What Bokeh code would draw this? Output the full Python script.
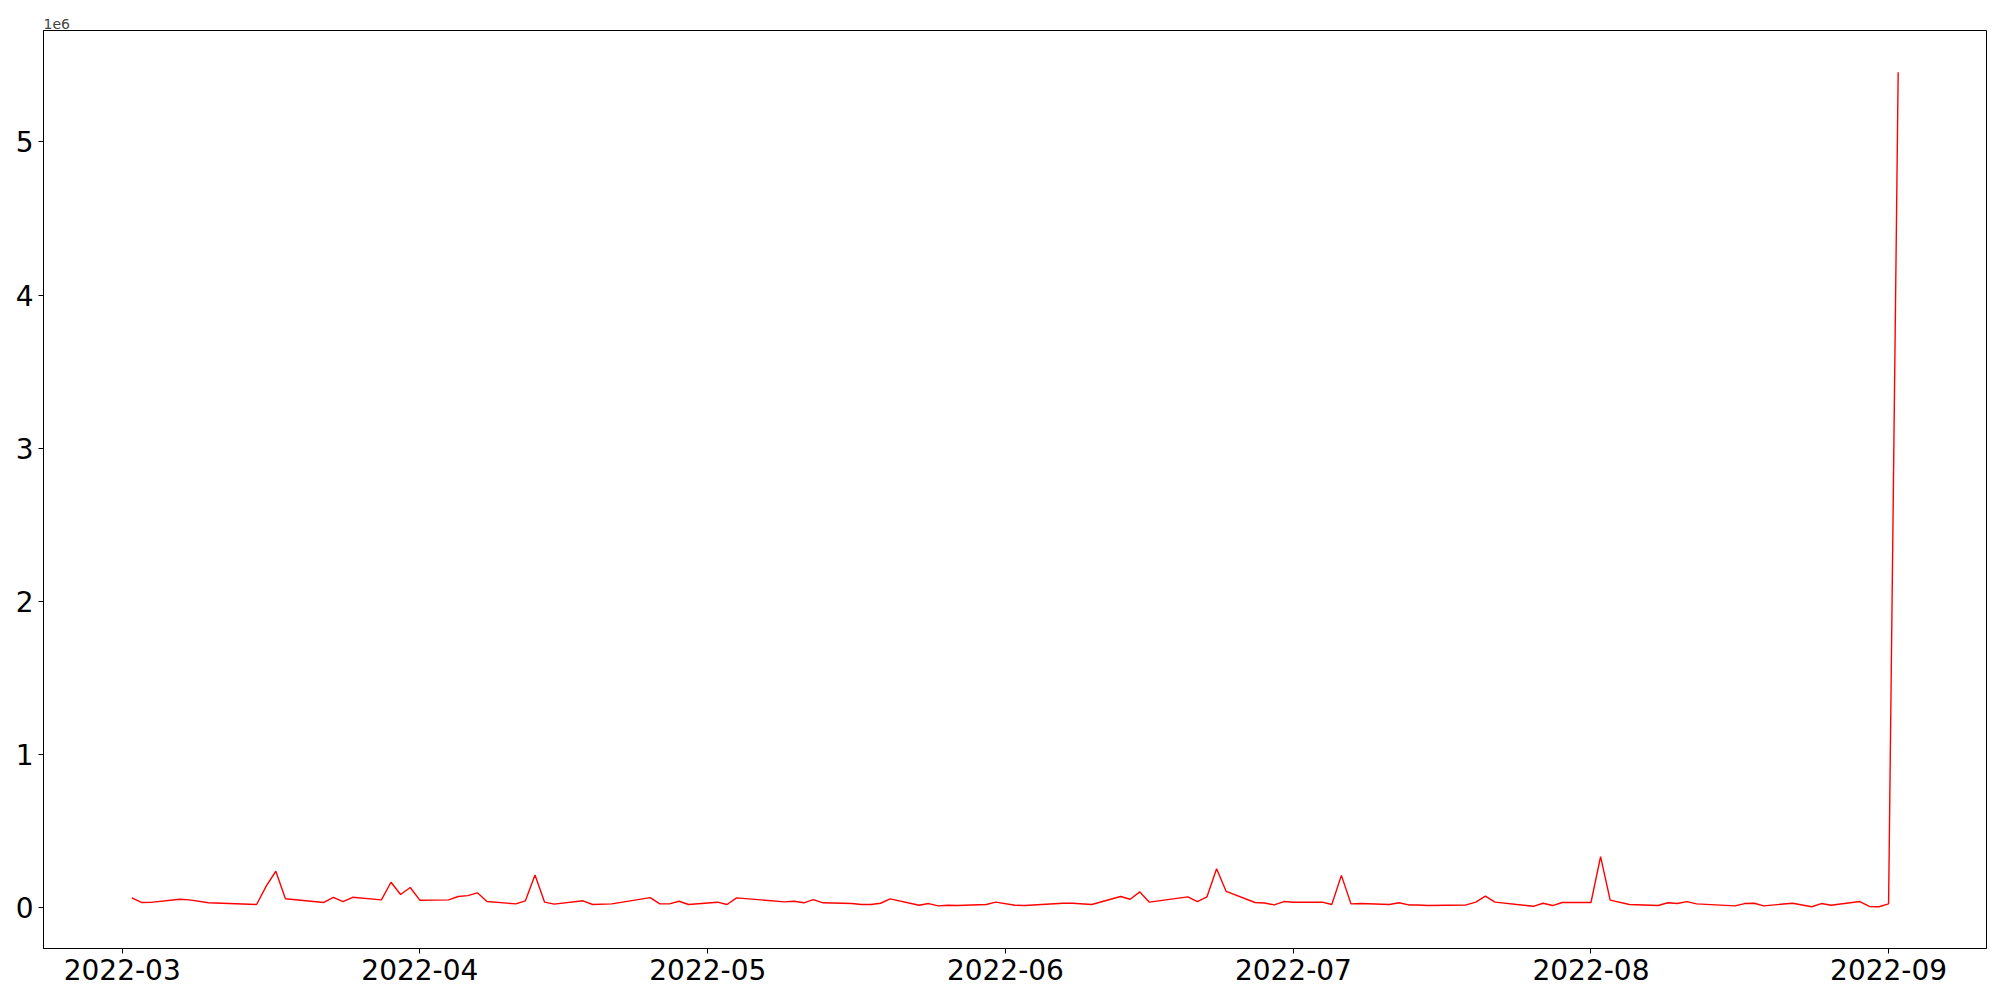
import pandas as pd
from bokeh.plotting import figure
from bokeh.models import Range1d, FixedTicker, DatetimeTickFormatter, CustomJSTickFormatter
from bokeh.embed import file_html
from bokeh.resources import INLINE

dates = [
    "2022-03-02", "2022-03-03", "2022-03-04", "2022-03-07", "2022-03-08", "2022-03-10",
    "2022-03-15", "2022-03-16", "2022-03-17", "2022-03-18", "2022-03-22", "2022-03-23",
    "2022-03-24", "2022-03-25", "2022-03-28", "2022-03-29", "2022-03-30", "2022-03-31",
    "2022-04-01", "2022-04-04", "2022-04-05", "2022-04-06", "2022-04-07", "2022-04-08",
    "2022-04-11", "2022-04-12", "2022-04-13", "2022-04-14", "2022-04-15", "2022-04-18",
    "2022-04-19", "2022-04-21", "2022-04-25", "2022-04-26", "2022-04-27", "2022-04-28",
    "2022-04-29", "2022-05-02", "2022-05-03", "2022-05-04", "2022-05-09", "2022-05-10",
    "2022-05-11", "2022-05-12", "2022-05-13", "2022-05-16", "2022-05-17", "2022-05-18",
    "2022-05-19", "2022-05-20", "2022-05-23", "2022-05-24", "2022-05-25", "2022-05-26",
    "2022-05-27", "2022-05-30", "2022-05-31", "2022-06-02", "2022-06-03", "2022-06-07",
    "2022-06-08", "2022-06-10", "2022-06-13", "2022-06-14", "2022-06-15", "2022-06-16",
    "2022-06-20", "2022-06-21", "2022-06-22", "2022-06-23", "2022-06-24", "2022-06-27",
    "2022-06-28", "2022-06-29", "2022-06-30", "2022-07-01", "2022-07-04", "2022-07-05",
    "2022-07-06", "2022-07-07", "2022-07-08", "2022-07-11", "2022-07-12", "2022-07-13",
    "2022-07-14", "2022-07-15", "2022-07-19", "2022-07-20", "2022-07-21", "2022-07-22",
    "2022-07-26", "2022-07-27", "2022-07-28", "2022-07-29", "2022-08-01", "2022-08-02",
    "2022-08-03", "2022-08-05", "2022-08-08", "2022-08-09", "2022-08-10", "2022-08-11",
    "2022-08-12", "2022-08-16", "2022-08-17", "2022-08-18", "2022-08-19", "2022-08-22",
    "2022-08-24", "2022-08-25", "2022-08-26", "2022-08-29", "2022-08-30", "2022-08-31",
    "2022-09-01", "2022-09-02",
]
values = [
    63000, 33000, 34000, 54000, 50000, 31000,
    20000, 140000, 237000, 57000, 33000, 67000,
    39000, 67000, 50000, 165000, 85000, 131000,
    48000, 50000, 72000, 78000, 96000, 39000,
    24000, 44000, 213000, 35000, 22000, 44000,
    20000, 24000, 65000, 24000, 24000, 41000,
    20000, 35000, 20000, 63000, 37000, 41000,
    31000, 52000, 31000, 26000, 20000, 20000,
    28000, 57000, 15000, 26000, 11000, 15000,
    13000, 20000, 35000, 15000, 13000, 28000,
    28000, 20000, 72000, 54000, 102000, 35000,
    70000, 39000, 70000, 253000, 105000, 33000,
    30000, 17000, 39000, 35000, 35000, 20000,
    210000, 24000, 26000, 20000, 31000, 17000,
    17000, 13000, 17000, 35000, 74000, 35000,
    8000, 28000, 13000, 33000, 33000, 333000,
    48000, 20000, 13000, 31000, 26000, 39000,
    24000, 11000, 26000, 28000, 11000, 28000,
    5000, 26000, 15000, 39000, 7000, 5000,
    24000, 5455000,
]
month_ticks = ["2022-03-01", "2022-04-01", "2022-05-01", "2022-06-01",
               "2022-07-01", "2022-08-01", "2022-09-01"]
y_ticks = [0, 1000000, 2000000, 3000000, 4000000, 5000000]

x = pd.to_datetime(dates)
xmin, xmax = x.min(), x.max()
xspan = xmax - xmin
ymin, ymax = min(values), max(values)
yspan = ymax - ymin

p = figure(width=1992, height=992, x_axis_type="datetime",
           output_backend="svg", toolbar_location=None,
           x_range=Range1d(xmin - 0.05 * xspan, xmax + 0.05 * xspan),
           y_range=Range1d(ymin - 0.05 * yspan, ymax + 0.05 * yspan),
           min_border_left=43, min_border_right=6, min_border_top=30, min_border_bottom=44)

p.line(x, values, line_color="red", line_width=1.4)

p.title.text = "1e6"
p.title.text_font = "DejaVu Sans"
p.title.text_font_size = "14px"
p.title.text_font_style = "normal"
p.title.standoff = 3
p.title.offset = 0

p.grid.visible = False
p.outline_line_color = "black"
p.outline_line_width = 1
p.outline_line_alpha = 1

tick_ms = [pd.Timestamp(t).value / 1e6 for t in month_ticks]
p.xaxis.ticker = FixedTicker(ticks=tick_ms)
fmt = "%Y-%m"
p.xaxis.formatter = DatetimeTickFormatter(
    microseconds=fmt, milliseconds=fmt, seconds=fmt, minsec=fmt, minutes=fmt,
    hourmin=fmt, hours=fmt, days=fmt, months=fmt, years=fmt)
p.yaxis.ticker = FixedTicker(ticks=y_ticks)
p.yaxis.formatter = CustomJSTickFormatter(code="return (tick/1e6).toFixed(0);")

for ax in (p.xaxis, p.yaxis):
    ax.major_label_text_font = "DejaVu Sans"
    ax.major_label_text_font_size = "28px"
    ax.major_label_text_color = "black"
    ax.major_tick_in = 0
    ax.major_tick_out = 5
    ax.minor_tick_in = 0
    ax.minor_tick_out = 0
    ax.major_label_standoff = 5
    ax.axis_line_color = "black"
    ax.axis_line_width = 1
    ax.major_tick_line_color = "black"
    ax.major_tick_line_width = 1

open("out.html", "w").write(file_html(p, INLINE))
